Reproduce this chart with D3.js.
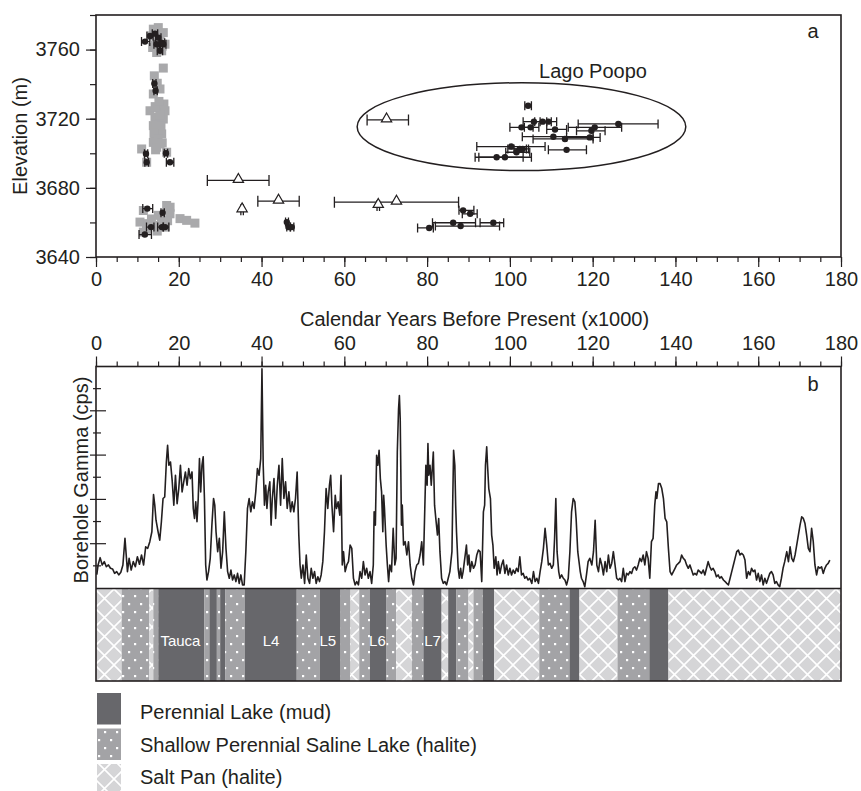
<!DOCTYPE html>
<html>
<head>
<meta charset="utf-8">
<script src="https://cdn.jsdelivr.net/npm/d3@7"></script>
<style>
  body { margin: 0; background: #fff; }
  text { font-family: "Liberation Sans", Arial, sans-serif; fill: #231f20; }
</style>
</head>
<body>
<div id="chart"></div>
<script>
// ---- data ----
// tick labels
var ageLabels = [0, 20, 40, 60, 80, 100, 120, 140, 160, 180];
var elevLabels = [3640, 3680, 3720, 3760];

// panel a : shoreline dates  [age ka, elevation m]
var grayDates = [
  [13.85,3771.8],[15.05,3772.7],[16.26,3769.8],[13.45,3767.9],[16.67,3763.1],[13.69,3761.2],
  [15.87,3759.3],[14.66,3758.3],[14.6,3766.0],[15.5,3768.5],[16.0,3762.0],[14.3,3762.5],
  [16.26,3749.3],[14.09,3744.8],[14.8,3740.5],[15.46,3737.2],[13.85,3734.3],
  [13.05,3724.6],[15.05,3726.5],[16.67,3724.6],[14.25,3720.8],[16.26,3719.8],[13.85,3716.0],
  [15.05,3714.1],[14.25,3710.2],[15.87,3711.2],[13.85,3706.3],[15.46,3705.4],[14.66,3703.5],
  [15.4,3722.0],[14.3,3727.0],[14.6,3716.5],[15.7,3716.0],[14.0,3711.5],[15.0,3708.5],
  [16.0,3706.0],[14.4,3702.0],[16.4,3728.5],[15.2,3730.0],
  [11.03,3702.5],[12.24,3694.8],[17.07,3700.6],[17.07,3669.8],[11.44,3666.9],[17.88,3665.0],
  [15.05,3664.1],[10.63,3660.2],[12.64,3659.3],[14.25,3658.3],[16.67,3657.3],[11.44,3654.4],
  [13.4,3662.0],[15.8,3661.5],[12.2,3656.0],[14.8,3655.0],[17.3,3661.0],
  [20.3,3662.2],[21.9,3661.2],[23.9,3659.6],[17.9,3668.8]
];
// [age, elevation, age min, age max]
var blackDates = [
  [11.84,3764.6,11.0,13.0],[13.05,3767.9,12.3,13.8],[14.25,3769.2,13.6,14.9],[15.05,3766.9,14.4,15.7],
  [14.66,3763.1,14.0,15.3],[15.87,3764.0,15.2,16.6],[15.46,3759.3,14.8,16.1],[16.26,3763.1,15.6,16.9],
  [14.1,3740.4,13.7,14.5],[14.4,3736.2,14.0,14.8],[12.08,3699.7,11.7,12.5],[12.24,3694.8,11.8,12.7],
  [16.91,3700.0,16.5,17.3],[17.88,3694.8,17.0,18.8],
  [12.4,3668.0,11.3,13.7],[16.1,3665.6,15.7,16.5],[13.3,3657.3,12.2,14.0],[15.9,3657.3,14.9,16.3],
  [16.7,3657.3,16.2,17.6],[11.8,3653.0,10.4,13.4],
  [46.1,3660.2,45.8,46.5],[46.5,3657.3,46.1,47.0],[47.3,3657.3,46.9,47.8],
  [88.7,3667.0,87.7,91.3],[90.4,3665.0,88.5,92.1],[86.3,3659.8,81.3,91.7],[88.1,3657.9,82.0,97.5],
  [96.0,3659.8,92.8,98.5],[80.5,3656.8,77.7,81.5],
  [104.4,3727.5,103.6,105.2],[102.8,3715.0,100.0,105.6],[105.0,3715.0,103.5,107.0],
  [105.8,3718.3,103.2,108.9],[107.9,3718.3,106.0,110.0],[109.3,3718.3,107.3,111.3],
  [110.9,3713.8,108.9,113.7],[110.5,3709.6,103.0,120.1],[113.3,3708.3,105.6,120.1],
  [119.3,3709.2,113.7,121.8],[119.7,3713.0,116.1,123.0],[120.5,3715.0,114.1,127.0],
  [126.2,3717.0,116.5,135.8],[113.7,3702.0,109.3,118.5],[100.3,3703.9,92.0,108.5],
  [102.4,3702.5,99.5,104.0],[103.1,3702.5,101.0,104.5],[101.6,3700.6,99.0,104.8],
  [96.8,3697.7,91.6,103.2],[98.8,3697.7,92.5,105.2]
];
var triangleDates = [
  [34.4,3684.3,26.9,41.8],[44.1,3672.3,39.1,49.1],[35.3,3667.3,35.0,35.6],
  [72.6,3671.7,57.6,87.6],[68.2,3669.8,67.9,68.5],[70.2,3719.3,65.5,75.5]
];
var poopoCentre = [102.8, 3715.4];
var poopoRadius = [39.7, 25.4];

// panel b : borehole gamma  [age ka, cps (relative)]
var gammaLog = [
  [0.2,0.6],[0.5,1.04],[1.0,1.37],[1.5,1.04],[2.0,1.19],[2.5,0.96],[3.0,1.04],[3.5,0.89],[4.0,0.86],[4.5,0.66],
  [5.0,0.74],[5.5,0.59],[6.0,0.71],[6.5,1.04],[7.0,2.24],[7.3,1.49],[7.6,0.74],[8.0,1.34],[8.5,0.81],[9.0,1.19],
  [9.5,0.96],[10.0,1.41],[10.5,1.07],[11.0,1.49],[11.5,1.04],[12.0,1.86],[12.5,1.79],[13.0,2.09],[13.5,2.54],[13.9,4.22],
  [14.2,3.74],[14.5,3.06],[15.0,2.54],[15.4,2.16],[15.8,2.99],[16.2,4.04],[16.6,4.11],[17.0,5.69],[17.3,6.44],[17.6,5.54],
  [18.0,5.69],[18.4,4.86],[18.8,3.74],[19.2,5.09],[19.6,3.81],[20.0,4.49],[20.4,5.54],[20.8,4.34],[21.2,4.79],[21.6,5.24],
  [22.0,4.64],[22.4,5.39],[22.8,4.94],[23.2,5.24],[23.5,3.59],[23.8,3.14],[24.1,3.89],[24.4,2.99],[24.7,4.04],[25.0,5.84],
  [25.3,4.34],[25.6,5.54],[25.9,5.92],[26.2,4.04],[26.5,1.04],[26.8,0.36],[27.2,0.74],[27.6,1.34],[28.0,2.84],[28.4,4.04],
  [28.7,3.74],[29.0,2.54],[29.4,1.64],[29.8,2.24],[30.2,0.89],[30.6,1.64],[31.0,3.44],[31.4,1.79],[31.8,0.74],[32.2,0.44],
  [32.6,0.81],[33.0,0.36],[33.4,0.59],[33.8,0.29],[34.2,0.66],[34.6,0.21],[35.0,0.59],[35.4,0.14],[35.8,0.14],[36.2,1.64],
  [36.6,3.59],[37.0,4.04],[37.4,3.44],[37.8,3.89],[38.2,3.59],[38.6,4.34],[39.0,5.39],[39.4,5.09],[39.8,5.84],[40.1,9.9],
  [40.4,5.54],[40.7,3.74],[41.0,4.64],[41.3,3.59],[41.6,4.34],[42.0,4.79],[42.3,2.84],[42.6,4.04],[43.0,4.94],[43.4,3.14],
  [43.8,4.64],[44.2,5.54],[44.6,3.74],[45.0,5.84],[45.4,4.04],[45.8,4.79],[46.2,3.59],[46.6,4.34],[47.0,3.44],[47.4,3.89],
  [47.8,3.44],[48.2,4.04],[48.6,5.24],[49.0,2.39],[49.3,1.04],[49.6,0.44],[50.0,1.04],[50.4,0.21],[50.8,1.49],[51.2,0.44],
  [51.6,0.21],[52.0,0.89],[52.4,0.44],[52.8,0.74],[53.2,0.21],[53.6,0.51],[54.0,0.29],[54.4,0.59],[54.8,1.19],[55.2,2.54],
  [55.6,4.49],[56.0,3.59],[56.4,4.64],[56.7,5.09],[57.0,3.74],[57.4,2.54],[57.8,4.19],[58.1,3.59],[58.5,3.89],[58.9,3.29],
  [59.2,5.09],[59.5,1.04],[59.8,1.64],[60.2,0.74],[60.6,1.04],[61.0,1.19],[61.4,1.94],[61.8,1.79],[62.2,0.44],[62.6,0.14],
  [63.0,0.29],[63.4,0.14],[63.8,0.74],[64.2,0.44],[64.6,1.19],[65.0,0.59],[65.4,0.89],[65.8,0.44],[66.2,0.74],[66.6,0.21],
  [67.0,1.04],[67.2,3.44],[67.5,2.84],[67.8,5.99],[68.1,5.54],[68.4,6.22],[68.7,4.94],[69.0,4.34],[69.3,2.54],[69.5,4.19],
  [69.7,3.59],[70.1,1.94],[70.4,1.04],[70.7,0.29],[71.0,1.04],[71.4,0.74],[71.8,2.69],[72.2,1.04],[72.5,1.34],[72.8,6.14],
  [73.1,8.09],[73.3,8.69],[73.5,7.64],[73.8,2.84],[74.0,3.74],[74.3,1.94],[74.7,2.09],[75.1,1.49],[75.5,2.09],[75.9,1.04],
  [76.3,0.44],[76.7,0.14],[77.1,0.74],[77.5,1.04],[77.9,1.11],[78.3,1.49],[78.7,2.09],[79.1,1.04],[79.5,4.04],[79.7,5.54],
  [80.0,4.64],[80.2,6.52],[80.4,5.09],[80.7,5.54],[81.0,4.64],[81.3,5.54],[81.5,6.14],[81.8,3.74],[82.1,3.14],[82.5,2.39],
  [82.8,3.14],[83.1,1.64],[83.5,0.44],[83.9,0.21],[84.3,0.29],[84.7,0.14],[85.1,0.44],[85.5,0.74],[86.0,1.64],[86.2,4.04],
  [86.4,6.22],[86.7,5.54],[86.9,3.74],[87.1,2.54],[87.5,0.89],[87.8,0.44],[88.1,0.89],[88.4,0.44],[88.7,0.74],[89.1,1.34],
  [89.5,1.94],[89.8,1.04],[90.1,1.49],[90.4,0.74],[90.8,1.19],[91.2,0.89],[91.6,1.04],[92.0,1.49],[92.4,1.71],[92.8,1.64],
  [93.2,0.29],[93.6,3.44],[93.9,3.74],[94.1,5.54],[94.4,6.37],[94.6,5.54],[94.9,4.49],[95.3,4.04],[95.6,2.39],[95.9,1.94],
  [96.2,0.89],[96.6,1.41],[96.9,0.59],[97.2,1.19],[97.6,0.66],[98.0,1.04],[98.4,1.26],[98.8,0.66],[99.2,1.04],[99.6,0.59],
  [100.0,0.89],[100.4,0.59],[100.8,0.81],[101.2,0.66],[101.6,0.89],[102.0,0.74],[102.4,1.41],[102.8,0.59],[103.2,0.66],[103.6,0.44],
  [104.0,0.51],[104.4,0.36],[104.8,0.44],[105.3,0.21],[105.7,0.74],[106.1,0.29],[106.5,0.44],[106.9,0.21],[107.3,0.74],[107.7,1.19],
  [108.1,1.79],[108.5,2.69],[108.9,1.94],[109.3,1.04],[109.7,1.11],[110.1,0.89],[110.5,1.04],[110.8,2.24],[111.1,4.04],[111.4,1.64],
  [111.8,0.74],[112.1,0.44],[112.5,0.59],[112.9,0.44],[113.3,0.36],[113.7,0.14],[114.1,0.44],[114.5,1.64],[114.9,3.44],[115.3,4.04],
  [115.7,3.89],[116.0,3.14],[116.4,1.64],[116.7,1.19],[117.0,0.74],[117.3,0.44],[117.7,0.29],[118.1,0.06],[118.5,0.59],[118.9,1.19],
  [119.3,1.34],[119.8,1.04],[120.2,1.64],[120.6,3.06],[121.0,1.04],[121.4,0.74],[121.8,1.34],[122.2,1.04],[122.6,0.59],[123.0,1.19],
  [123.4,0.74],[123.8,1.49],[124.2,0.89],[124.6,1.11],[125.0,1.64],[125.4,1.04],[125.8,0.44],[126.2,0.36],[126.6,0.44],[127.0,0.29],
  [127.4,0.89],[127.8,0.29],[128.2,0.66],[128.6,0.59],[129.0,0.74],[129.4,0.66],[129.8,0.89],[130.2,0.96],[130.6,0.81],[131.0,1.04],
  [131.4,1.34],[131.8,1.19],[132.2,1.49],[132.6,1.04],[133.0,1.64],[133.4,1.34],[133.8,0.44],[134.2,2.09],[134.6,2.24],[135.0,3.74],
  [135.3,4.34],[135.5,4.04],[135.9,4.71],[136.3,4.71],[136.7,4.49],[137.1,4.04],[137.5,3.14],[137.9,2.99],[138.3,1.79],[138.7,0.74],
  [139.1,0.59],[139.5,0.74],[139.9,0.89],[140.3,1.04],[140.7,1.11],[141.1,1.19],[141.5,1.49],[141.9,1.34],[142.3,1.26],[142.7,1.04],
  [143.1,0.89],[143.5,1.04],[143.9,0.81],[144.3,0.59],[144.7,0.66],[145.1,0.59],[145.5,0.81],[145.9,0.74],[146.3,0.66],[146.7,0.81],
  [147.1,0.59],[147.5,0.89],[147.9,1.19],[148.3,0.96],[148.7,0.81],[149.1,0.89],[149.5,0.74],[149.9,0.51],[150.3,0.59],[150.7,0.44],
  [151.1,0.51],[151.6,0.36],[152.0,0.29],[152.4,0.21],[152.8,0.14],[153.2,0.44],[153.6,0.74],[154.0,1.04],[154.4,1.34],[154.8,1.64],
  [155.2,1.71],[155.6,1.49],[156.0,1.56],[156.4,1.49],[156.8,1.26],[157.2,0.44],[157.6,0.74],[158.0,0.59],[158.4,0.89],[158.8,0.74],
  [159.2,0.81],[159.6,0.36],[160.0,0.66],[160.4,0.29],[160.8,0.59],[161.2,0.14],[161.6,0.44],[162.0,0.21],[162.4,0.44],[162.8,0.66],
  [163.2,0.74],[163.6,0.59],[164.0,0.21],[164.4,0.29],[164.8,0.14],[165.2,0.06],[165.6,0.44],[166.0,0.89],[166.4,1.19],[166.9,1.64],
  [167.3,1.19],[167.7,1.86],[168.1,1.34],[168.5,1.19],[168.9,1.49],[169.3,1.94],[169.7,2.39],[170.1,2.84],[170.5,3.21],[170.9,3.14],
  [171.3,2.91],[171.7,2.39],[172.1,1.79],[172.5,1.64],[172.9,2.69],[173.3,2.09],[173.7,1.04],[174.1,0.59],[174.5,0.96],[174.9,0.89],
  [175.3,0.96],[175.7,0.66],[176.1,0.89],[176.5,1.04],[176.9,1.11],[177.3,1.26]
];
var gammaTicks = [1, 2, 3, 4, 5, 6, 7, 8, 9];

// stratigraphic column  [from ka, to ka, facies]
var units = [
  [0,6.2,"pan"],[6.2,12.9,"shallow"],[12.9,13.85,"pan"],[13.85,15.05,"shallow"],[15.05,26.2,"mud"],
  [26.2,27.4,"shallow"],[27.4,29.2,"mud"],[29.2,30.0,"shallow"],[30.0,31.2,"mud"],[31.2,36.0,"shallow"],
  [36.0,48.5,"mud"],[48.5,54.1,"shallow"],[54.1,59.1,"mud"],[59.1,61.5,"shallow"],[61.5,63.6,"pan"],
  [63.6,66.2,"shallow"],[66.2,70.2,"mud"],[70.2,72.5,"shallow"],[72.5,76.3,"pan"],[76.3,79.1,"shallow"],
  [79.1,83.5,"mud"],[83.5,85.1,"pan"],[85.1,87.1,"mud"],[87.1,90.0,"shallow"],[90.0,91.2,"pan"],
  [91.2,93.4,"shallow"],[93.4,96.2,"mud"],[96.2,107.1,"pan"],[107.1,114.4,"shallow"],[114.4,116.8,"mud"],
  [116.8,126.0,"pan"],[126.0,133.7,"shallow"],[133.7,138.3,"mud"],[138.3,180,"pan"]
];
var lakeNames = [["Tauca",20.4],["L4",42.3],["L5",56.0],["L6",68.0],["L7",81.3]];
var legendItems = [
  ["mud", "Perennial Lake (mud)"],
  ["shallow", "Shallow Perennial Saline Lake (halite)"],
  ["pan", "Salt Pan (halite)"]
];

// ---- drawing ----
var ink = "#231f20";
var width = 861, height = 791;
var svg = d3.select("#chart").append("svg").attr("width", width).attr("height", height);

var x = d3.scaleLinear().domain([0, 180]).range([96, 841]);
var yElev = d3.scaleLinear().domain([3640, 3780]).range([257, 15]);
var yGamma = d3.scaleLinear().domain([0, 10]).range([588, 366.5]);
var columnTop = 589, columnBottom = 681;

// fills for the facies
var defs = svg.append("defs");
var dots = defs.append("pattern").attr("id", "shallow").attr("patternUnits", "userSpaceOnUse")
  .attr("width", 12).attr("height", 16);
dots.append("rect").attr("width", 12).attr("height", 16).attr("fill", "#a3a3a6");
dots.append("rect").attr("x", 2).attr("y", 3).attr("width", 2.2).attr("height", 2.2).attr("fill", "#fff");
dots.append("rect").attr("x", 8).attr("y", 11).attr("width", 2.2).attr("height", 2.2).attr("fill", "#fff");
var pan = defs.append("pattern").attr("id", "pan").attr("patternUnits", "userSpaceOnUse")
  .attr("width", 19).attr("height", 19);
pan.append("rect").attr("width", 19).attr("height", 19).attr("fill", "#d5d5d7");
pan.append("path").attr("d", "M0,0L19,19M19,0L0,19").attr("stroke", "#fff").attr("stroke-width", 1.6);
var faciesFill = { mud: "#67676b", shallow: "url(#shallow)", pan: "url(#pan)" };

function styleAxis(g) {
  g.select(".domain").remove();
  g.selectAll("line").attr("stroke", ink).attr("stroke-width", 1.2);
  g.selectAll("text").attr("font-size", 20).attr("font-family", "Liberation Sans, Arial, sans-serif").attr("fill", ink);
}

// ===== panel a =====
var gA = svg.append("g");
gA.append("g").attr("transform", "translate(0,257)")
  .call(d3.axisBottom(x).tickValues(d3.range(0, 181, 5)).tickSize(5).tickFormat(""))
  .call(styleAxis);
gA.append("g").attr("transform", "translate(0,257)")
  .call(d3.axisBottom(x).tickValues(ageLabels).tickSize(10).tickPadding(5))
  .call(styleAxis);
gA.append("g").attr("transform", "translate(96,0)")
  .call(d3.axisLeft(yElev).tickValues(d3.range(3640, 3781, 20)).tickSize(6).tickFormat(""))
  .call(styleAxis);
gA.append("g").attr("transform", "translate(96,0)")
  .call(d3.axisLeft(yElev).tickValues(elevLabels).tickSize(10).tickPadding(6).tickFormat(d3.format("d")))
  .call(styleAxis);

gA.append("text").attr("transform", "translate(27," + ((yElev(3640) + yElev(3780)) / 2) + ") rotate(-90)")
  .attr("text-anchor", "middle").attr("font-size", 20).text("Elevation (m)");

// gray squares
gA.append("g").selectAll("rect").data(grayDates).join("rect")
  .attr("x", function(d) { return x(d[0]) - 4.5; })
  .attr("y", function(d) { return yElev(d[1]) - 4.5; })
  .attr("width", 9).attr("height", 9).attr("fill", "#a9a9ab");

// error bars
function errorBars(data, cap) {
  var g = gA.append("g").attr("stroke", ink).attr("stroke-width", 1.3).attr("fill", "none");
  g.selectAll("path").data(data).join("path")
    .attr("d", function(d) {
      var y = yElev(d[1]), a = x(d[2]), b = x(d[3]);
      return "M" + a + "," + y + "H" + b +
             "M" + a + "," + (y - cap) + "V" + (y + cap) +
             "M" + b + "," + (y - cap) + "V" + (y + cap);
    });
}
errorBars(blackDates, 4.5);
errorBars(triangleDates, 5.5);

gA.append("g").selectAll("circle").data(blackDates).join("circle")
  .attr("cx", function(d) { return x(d[0]); })
  .attr("cy", function(d) { return yElev(d[1]); })
  .attr("r", 3.2).attr("fill", ink);

var tri = d3.symbol().type(d3.symbolTriangle).size(46);
gA.append("g").selectAll("path").data(triangleDates).join("path")
  .attr("d", tri)
  .attr("transform", function(d) { return "translate(" + x(d[0]) + "," + (yElev(d[1]) - 1) + ")"; })
  .attr("fill", "#fff").attr("stroke", ink).attr("stroke-width", 1.2);

// Lago Poopo
gA.append("ellipse")
  .attr("cx", x(poopoCentre[0])).attr("cy", yElev(poopoCentre[1]))
  .attr("rx", x(poopoCentre[0] + poopoRadius[0]) - x(poopoCentre[0]))
  .attr("ry", yElev(poopoCentre[1] - poopoRadius[1]) - yElev(poopoCentre[1]))
  .attr("fill", "none").attr("stroke", ink).attr("stroke-width", 1.5);
gA.append("text").attr("x", 593).attr("y", 78).attr("text-anchor", "middle").attr("font-size", 20).text("Lago Poopo");

gA.append("rect").attr("x", 96).attr("y", 15).attr("width", 745).attr("height", 242)
  .attr("fill", "none").attr("stroke", ink).attr("stroke-width", 1.6);
gA.append("text").attr("x", 813).attr("y", 38).attr("text-anchor", "middle").attr("font-size", 20).text("a");

// ===== panel b =====
var gB = svg.append("g");
gB.append("text").attr("x", 474.5).attr("y", 326).attr("text-anchor", "middle").attr("font-size", 20)
  .text("Calendar Years Before Present (x1000)");
gB.append("g").attr("transform", "translate(0,366.5)")
  .call(d3.axisTop(x).tickValues(d3.range(0, 181, 5)).tickSize(5).tickFormat(""))
  .call(styleAxis);
gB.append("g").attr("transform", "translate(0,366.5)")
  .call(d3.axisTop(x).tickValues(ageLabels).tickSize(10).tickPadding(6.5))
  .call(styleAxis);

// gamma ticks cross the frame
gB.append("g").selectAll("line").data(gammaTicks).join("line")
  .attr("x1", function(d) { return 96 - (d % 2 === 0 ? 6 : 3); })
  .attr("x2", function(d) { return 96 + (d % 2 === 0 ? 10 : 5); })
  .attr("y1", function(d) { return yGamma(d); })
  .attr("y2", function(d) { return yGamma(d); })
  .attr("stroke", ink).attr("stroke-width", 1.2);

gB.append("text").attr("transform", "translate(87.5,480) rotate(-90)")
  .attr("text-anchor", "middle").attr("font-size", 20).text("Borehole Gamma (cps)");

var line = d3.line().x(function(d) { return x(d[0]); }).y(function(d) { return yGamma(d[1]); });
gB.append("path").datum(gammaLog).attr("d", line)
  .attr("fill", "none").attr("stroke", ink).attr("stroke-width", 1.6).attr("stroke-linejoin", "round");

// stratigraphic column
gB.append("g").selectAll("rect").data(units).join("rect")
  .attr("x", function(d) { return x(d[0]); })
  .attr("y", columnTop)
  .attr("width", function(d) { return x(d[1]) - x(d[0]); })
  .attr("height", columnBottom - columnTop)
  .attr("fill", function(d) { return faciesFill[d[2]]; });
gB.append("g").selectAll("text").data(lakeNames).join("text")
  .attr("x", function(d) { return x(d[1]); })
  .attr("y", 646).attr("text-anchor", "middle").attr("font-size", 15)
  .style("fill", "#fff").text(function(d) { return d[0]; });

gB.append("line").attr("x1", 96).attr("x2", 841).attr("y1", 588.5).attr("y2", 588.5)
  .attr("stroke", ink).attr("stroke-width", 1.5);
gB.append("rect").attr("x", 96).attr("y", 366.5).attr("width", 745).attr("height", columnBottom - 366.5)
  .attr("fill", "none").attr("stroke", ink).attr("stroke-width", 1.6);
gB.append("text").attr("x", 813).attr("y", 391).attr("text-anchor", "middle").attr("font-size", 20).text("b");

// ===== legend =====
var legend = svg.append("g");
legend.selectAll("rect").data(legendItems).join("rect")
  .attr("x", 97).attr("y", function(d, i) { return 693 + i * 35.5; })
  .attr("width", 24).attr("height", 31.5)
  .attr("fill", function(d) { return faciesFill[d[0]]; });
legend.selectAll("text").data(legendItems).join("text")
  .attr("x", 140).attr("y", function(d, i) { return 719 + i * 32.5; })
  .attr("font-size", 20).text(function(d) { return d[1]; });
</script>
</body>
</html>
